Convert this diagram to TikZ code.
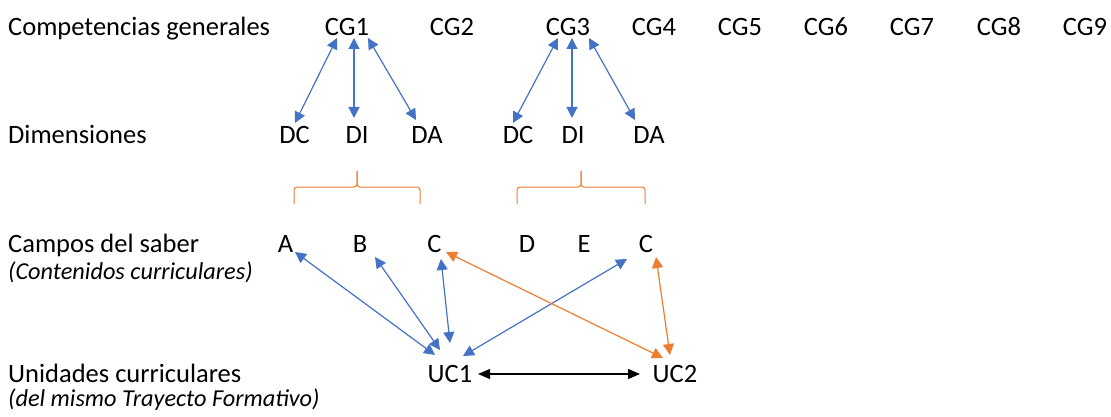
\documentclass[tikz,border=0pt]{standalone}
\usepackage{fontspec}
\setmainfont{Carlito}
\usetikzlibrary{arrows.meta,calc}
\definecolor{cblue}{HTML}{4472C4}
\definecolor{corange}{HTML}{ED7D31}
\tikzset{
  lbl/.style={anchor=base west, inner sep=0pt, font=\fontsize{26.5}{30}\selectfont},
  sub/.style={anchor=base west, inner sep=0pt, font=\fontsize{24.3}{28}\selectfont\itshape},
  itm/.style={anchor=base, inner sep=0pt, font=\fontsize{26.5}{30}\selectfont},
  barrow/.style={cblue, line width=1.2pt, {Triangle[length=11pt,width=11pt]}-{Triangle[length=11pt,width=11pt]}},
  oarrow/.style={corange, line width=1.2pt, {Triangle[length=11pt,width=11pt]}-{Triangle[length=11pt,width=11pt]}},
  karrow/.style={black, line width=1.2pt, {Triangle[length=12pt,width=10pt]}-{Triangle[length=12pt,width=10pt]}},
  bracestyle/.style={corange, line width=1pt, rounded corners=3pt}
}
\begin{document}
\begin{tikzpicture}[x=1pt,y=-1pt]
\useasboundingbox (0,0) rectangle (1111,417);
% row labels
\node[lbl] (l1) at (8,36) {Competencias generales};
\node[lbl] (l2) at (8,143) {Dimensiones};
\node[lbl] (l3) at (8,252) {Campos del saber};
\node[sub] (l3b) at (8,279) {(Contenidos curriculares)};
\node[lbl] (l4) at (8,382) {Unidades curriculares};
\node[sub] (l4b) at (8,406) {(del mismo Trayecto Formativo)};
% CG row
\node[itm] (cg1) at (347,36) {CG1};
\node[itm] (cg2) at (452,36) {CG2};
\node[itm] (cg3) at (568,36) {CG3};
\node[itm] (cg4) at (654,36) {CG4};
\node[itm] (cg5) at (740,36) {CG5};
\node[itm] (cg6) at (826,36) {CG6};
\node[itm] (cg7) at (912,36) {CG7};
\node[itm] (cg8) at (999,36) {CG8};
\node[itm] (cg9) at (1085,36) {CG9};
% dimensions
\node[itm] (dc1) at (294.5,143) {DC};
\node[itm] (di1) at (357,143) {DI};
\node[itm] (da1) at (427,143) {DA};
\node[itm] (dc2) at (518,143) {DC};
\node[itm] (di2) at (573,143) {DI};
\node[itm] (da2) at (649,143) {DA};
% fields
\node[itm] (fa) at (285.5,252) {A};
\node[itm] (fb) at (360,252) {B};
\node[itm] (fc1) at (434.5,252) {C};
\node[itm] (fd) at (527,252) {D};
\node[itm] (fe) at (584,252) {E};
\node[itm] (fc2) at (646,252) {C};
% units
\node[itm] (uc1) at (450,382) {UC1};
\node[itm] (uc2) at (675,382) {UC2};
% braces
\draw[bracestyle] (294,204) -- (294,187) -- (357,187) -- (357,171);
\draw[bracestyle] (357,171) -- (357,187) -- (420,187) -- (420,204);
\draw[bracestyle] (517,204) -- (517,187) -- (581,187) -- (581,171);
\draw[bracestyle] (581,171) -- (581,187) -- (645,187) -- (645,204);
% CG - dimension arrows
\draw[barrow] ($(cg1.base)+(-10,2)$) -- ($(dc1.base)+(0.5,-20)$);
\draw[barrow] ($(cg1.base)+(7,2)$) -- ($(di1.base)+(-3,-25)$);
\draw[barrow] ($(cg1.base)+(21,2)$) -- ($(da1.base)+(-11,-23)$);
\draw[barrow] ($(cg3.base)+(-10,2)$) -- ($(dc2.base)+(-5,-20)$);
\draw[barrow] ($(cg3.base)+(4,2)$) -- ($(di2.base)+(-1,-25)$);
\draw[barrow] ($(cg3.base)+(21,2)$) -- ($(da2.base)+(-14,-23)$);
% field - unit arrows
\draw[barrow] ($(fa.base)+(9.5,0)$) -- ($(uc1.base)+(-15,-27)$);
\draw[barrow] ($(fb.base)+(15,5)$) -- ($(uc1.base)+(-10,-32)$);
\draw[barrow] ($(fc1.base)+(6.5,7)$) -- ($(uc1.base)+(0,-39)$);
\draw[barrow] ($(fc2.base)+(-19,7)$) -- ($(uc1.base)+(13,-26)$);
\draw[oarrow] ($(fc1.base)+(11.5,0)$) -- ($(uc2.base)+(-12,-24)$);
\draw[oarrow] ($(fc2.base)+(10,5)$) -- ($(uc2.base)+(-5,-27)$);
\draw[karrow] ($(uc1.base)+(28,-8)$) -- ($(uc2.base)+(-35,-8)$);
\end{tikzpicture}
\end{document}
